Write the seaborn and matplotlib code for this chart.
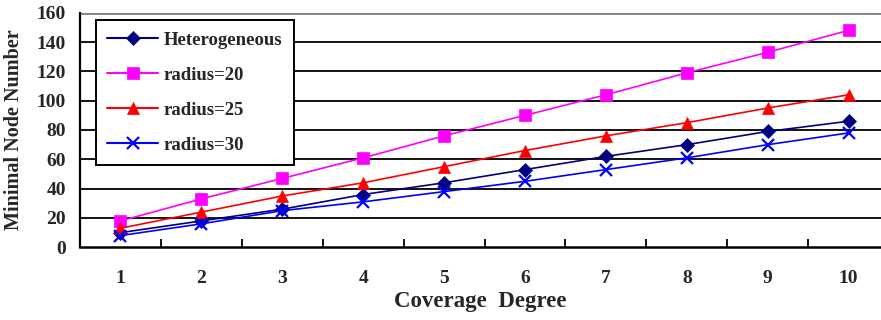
import numpy as np
import pandas as pd
import matplotlib
matplotlib.use("Agg")
import matplotlib.pyplot as plt
import seaborn as sns
from matplotlib.lines import Line2D

degrees = [1, 2, 3, 4, 5, 6, 7, 8, 9, 10]
heterogeneous = [10, 18, 26, 36, 44, 53, 62, 70, 79, 86]
radius20 = [18, 33, 47, 61, 76, 90, 104, 119, 133, 148]
radius25 = [13, 24, 35, 44, 55, 66, 76, 85, 95, 104]
radius30 = [8, 16, 25, 31, 38, 45, 53, 61, 70, 78]
series_names = ["Heterogeneous", "radius=20", "radius=25", "radius=30"]
y_ticks = [0, 20, 40, 60, 80, 100, 120, 140, 160]

series_values = [heterogeneous, radius20, radius25, radius30]

sns.set_theme(style="white")
plt.rcParams['font.family'] = ['Liberation Serif', 'DejaVu Serif']
plt.rcParams['font.weight'] = 'bold'

fig = plt.figure(figsize=(8.81, 3.20), dpi=100)
ax = fig.add_axes([80/881, (320-247.3)/320, 1 - 80/881, (247.3-12.7)/320])

palette = {"Heterogeneous": "#000080", "radius=20": "#FF00FF",
           "radius=25": "#FF0000", "radius=30": "#0000FF"}
markers = {"Heterogeneous": "D", "radius=20": "s", "radius=25": "^", "radius=30": "x"}
msizes = {"D": 7.5, "s": 9, "^": 9, "x": 9}

# gridlines
for yv in y_ticks[1:-1]:
    ax.axhline(yv, color="black", lw=1.3, zorder=0)
ax.axhline(160, color="#808080", lw=2.0, zorder=0)

handles = []
for name, vals in zip(series_names, series_values):
    d = pd.DataFrame({"degree": degrees, "nodes": vals})
    mk = markers[name]
    kw = dict(marker=mk, markersize=msizes[mk], color=palette[name],
              markeredgecolor=palette[name],
              markeredgewidth=1.6 if mk == "x" else 0.5)
    sns.lineplot(data=d, x="degree", y="nodes", ax=ax, linewidth=1.2,
                 legend=False, zorder=3, **kw)
    handles.append(Line2D([], [], lw=1.5, **kw))

ax.set_xlim(0.5, 10.4)
ax.set_ylim(0, 160)
ax.set_yticks(y_ticks)
ax.set_xticks(degrees)
ax.set_xticks([d + 0.5 for d in degrees[:-1]], minor=True)
ax.tick_params(axis="x", which="major", length=0, pad=16, labelsize=14)
ax.tick_params(axis="x", which="minor", direction="in", length=6, width=1.3,
               color="black", bottom=True)
ax.tick_params(axis="y", length=0, pad=10, labelsize=14)
for lab in ax.get_xticklabels() + ax.get_yticklabels():
    lab.set_fontweight("bold")

for s in ["top", "right"]:
    ax.spines[s].set_visible(False)
ax.spines["left"].set_color("black")
ax.spines["left"].set_linewidth(1.6)
ax.spines["bottom"].set_color("black")
ax.spines["bottom"].set_linewidth(1.8)

ax.set_xlabel("Coverage  Degree", fontsize=16.5, fontweight="bold", labelpad=3)
ax.set_ylabel("Minimal Node Number", fontsize=14.5, fontweight="bold", labelpad=9)

leg = ax.legend(handles, series_names, loc="upper left",
                bbox_to_anchor=(95.7/881, 1 - 20/320), bbox_transform=fig.transFigure,
                frameon=True, fancybox=False, framealpha=1, edgecolor="black",
                handlelength=2.7, handletextpad=0.32, labelspacing=0.95,
                borderpad=0.62, borderaxespad=0, prop={"weight": "bold", "size": 13.5})
leg.get_frame().set_linewidth(1.4)
leg.set_zorder(5)

fig.savefig("out.png", dpi=100)
